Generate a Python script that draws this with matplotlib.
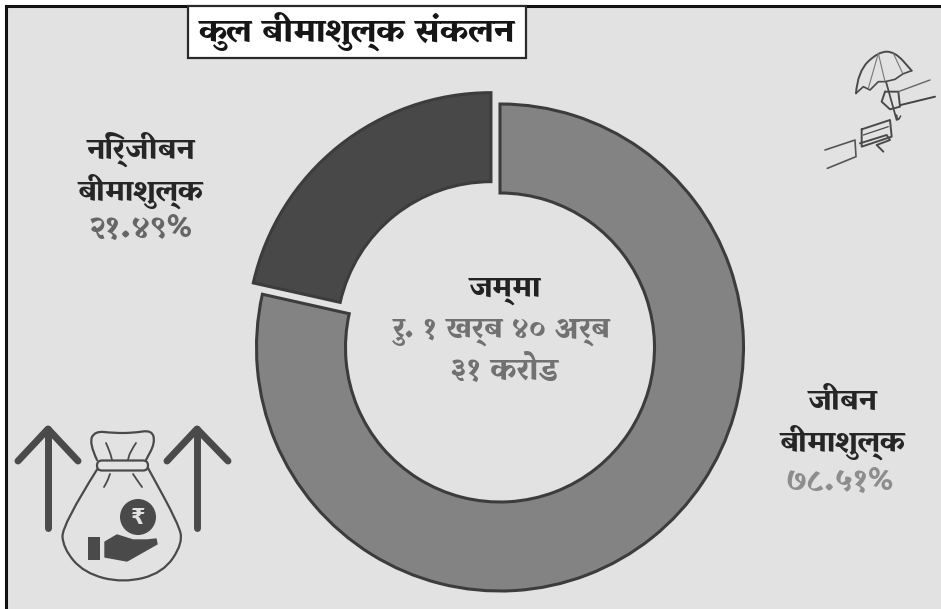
import matplotlib
matplotlib.use('Agg')
import matplotlib.pyplot as plt
import matplotlib.patches as mpatches
from matplotlib.path import Path

labels = [['निर्जीबन', 'बीमाशुल्क'], ['जीबन', 'बीमाशुल्क']]
shares = [21.49, 78.51]
share_labels = ['२१.४९%', '७८.५१%']
title = 'कुल बीमाशुल्क संकलन'
total_head = 'जम्मा'
total_lines = ['रु. १ खर्ब ४० अर्ब', '३१ करोड']

W, H = 941, 609
BG = '#e2e2e2'
INK = '#4a4a4a'
plt.rcParams['font.family'] = ['Vesper Libre', 'DejaVu Sans']

fig = plt.figure(figsize=(W / 100, H / 100), dpi=100, facecolor='white')
ax = fig.add_axes([0, 0, 1, 1])

CX, CY, R_OUT, R_IN = 500, 347.5, 243.5, 154.5

# explode is in data units here, the axes run in pixels
ax.pie(shares, colors=['#484848', '#838383'], startangle=90, radius=R_OUT,
       center=(CX, H - CY), explode=[14.5, 0],
       wedgeprops=dict(width=R_OUT - R_IN, edgecolor='#3c3c3c', linewidth=2.2))
ax.set_xlim(0, W)
ax.set_ylim(0, H)
ax.set_aspect('equal')
ax.axis('off')

# panel background and black frame on the left and top
ax.add_patch(mpatches.Rectangle((7, -1), W, H - 5, fc=BG, ec='none', zorder=-5))
ax.plot([6.5, 6.5, W + 1], [-1, H - 5.5, H - 5.5], color='#111111', lw=2.2, zorder=1,
        solid_joinstyle='miter')

# title box
ax.add_patch(mpatches.Rectangle((188, H - 58), 338, 52, fc='white', ec='#2a2a2a', lw=1.6, zorder=2))
ax.text(357, H - 31, title, fontsize=25, weight=900, color='#161616', ha='center', va='center', zorder=3)


def label(x, y, text, color='#262626', size=22):
    ax.text(x, H - y, text, fontsize=size, weight=900, color=color, ha='center', va='center')


label(141, 149, labels[0][0])
label(141, 191, labels[0][1])
label(141, 229, share_labels[0], color='#666666', size=24)
label(843, 401, labels[1][0])
label(843, 442, labels[1][1])
label(840, 482, share_labels[1], color='#8d8d8d', size=24)

label(505, 290, total_head, color='#222222')
label(502, 331, total_lines[0], color='#717171')
label(504, 370, total_lines[1], color='#717171', size=23)


def px(pts):
    return [(x, H - y) for x, y in pts]


def stroke(pts, lw=1.2, color=INK):
    # smooth outline through the given pixel points using quadratic segments
    p = px(pts)
    verts = [p[0]]
    codes = [Path.MOVETO]
    for i in range(1, len(p) - 1):
        mid = ((p[i][0] + p[i + 1][0]) / 2, (p[i][1] + p[i + 1][1]) / 2)
        verts += [p[i], mid]
        codes += [Path.CURVE3, Path.CURVE3]
    verts.append(p[-1])
    codes.append(Path.LINETO)
    ax.add_patch(mpatches.PathPatch(Path(verts, codes), fc='none', ec=color, lw=lw,
                                    capstyle='round', joinstyle='round', zorder=4))


def seg(pts, lw=1.2, color=INK):
    xy = px(pts)
    ax.plot([a for a, _ in xy], [b for _, b in xy], color=color, lw=lw,
            solid_capstyle='round', solid_joinstyle='round', zorder=4)


# arrows beside the money bag
for x, l, r in [(48, 18, 78), (197, 167, 228)]:
    seg([(x, 528), (x, 429)], lw=5)
    seg([(l, 461), (x, 429), (r, 461)], lw=5)

# money bag
stroke([(98, 468), (62, 525), (63, 548), (84, 573), (123, 583), (163, 573), (183, 543), (178, 523), (148, 468)], lw=1.6)
stroke([(97, 460), (89, 443), (95, 431), (113, 433), (133, 433), (152, 430), (155, 443), (146, 460)], lw=1.6)
ax.add_patch(mpatches.FancyBboxPatch((97, H - 470.5), 51, 10, boxstyle='round,pad=0,rounding_size=5',
                                     fc=BG, ec=INK, lw=1.6, zorder=4))
stroke([(106, 443), (110, 452), (112, 460)], lw=1.3)
stroke([(136, 443), (130, 452), (128, 460)], lw=1.3)
stroke([(110, 474), (108, 480), (104, 487)], lw=1.3)
stroke([(133, 474), (137, 480), (142, 487)], lw=1.3)
ax.add_patch(mpatches.Circle((138, H - 517), 18, fc=INK, ec='none', zorder=4))
ax.text(138, H - 518, '₹', family='DejaVu Sans', fontsize=15, weight='bold', color=BG, ha='center', va='center', zorder=5)
ax.add_patch(mpatches.Rectangle((88, H - 560), 12, 23, fc=INK, ec='none', zorder=4))
ax.add_patch(mpatches.Polygon(px([(105, 542), (117, 535), (133, 540), (147, 540), (156, 539), (157, 544),
                                  (127, 561), (105, 557)]), fc=INK, ec=INK, lw=1, joinstyle='round', zorder=4))


def U(pts):
    return [(780 + x / 3, 40 + y / 3) for x, y in pts]


# umbrella held over a hand passing money
stroke(U([(228, 160), (233, 95), (295, 35), (345, 35), (395, 92)]), lw=1.4)
seg(U([(228, 160), (250, 140), (270, 150), (295, 125), (315, 125), (345, 118), (368, 102), (395, 92)]), lw=1.2)
seg(U([(295, 40), (265, 145)]), lw=0.8, color='#777777')
seg(U([(295, 40), (315, 125)]), lw=0.8, color='#777777')
seg(U([(340, 40), (368, 100)]), lw=0.8, color='#777777')
seg(U([(318, 125), (350, 240)]), lw=1.3)
stroke(U([(350, 225), (352, 245), (362, 228)]), lw=1.1)
seg(U([(315, 155), (355, 155), (360, 200), (330, 208), (305, 185), (315, 155)]), lw=1.4)
seg(U([(355, 155), (450, 120)]), lw=1.0, color='#666666')
seg(U([(362, 195), (465, 170)]), lw=1.4, color='#444444')
seg(U([(245, 268), (330, 240), (335, 290), (245, 320), (245, 268)]), lw=1.4)
seg(U([(250, 285), (325, 260)]), lw=0.9)
seg(U([(240, 310), (320, 285), (330, 300), (290, 315), (310, 335)]), lw=1.4)
seg(U([(135, 330), (225, 300), (228, 350), (142, 385)]), lw=1.2, color='#555555')

fig.savefig('out.png', dpi=100, facecolor='white')
